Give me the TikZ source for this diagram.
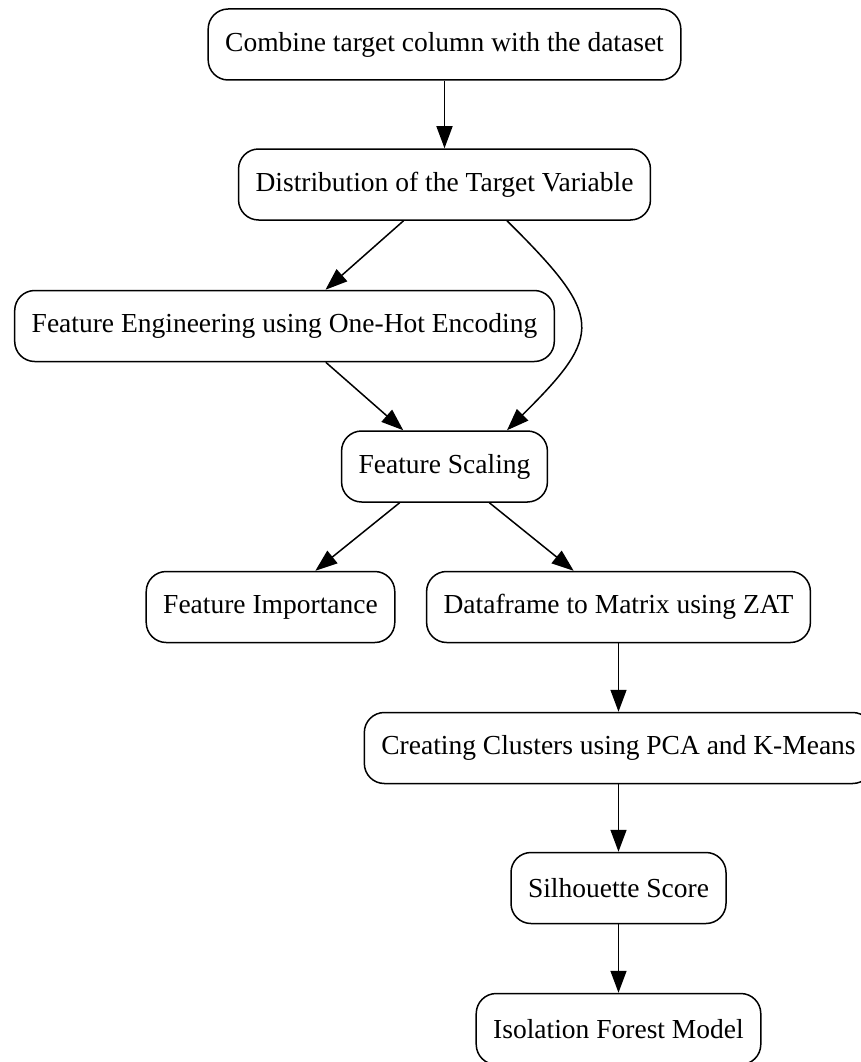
\documentclass[tikz,border=0pt]{standalone}
\usepackage{fontspec}
\setmainfont{Liberation Serif}
\usetikzlibrary{arrows.meta}
\tikzset{
    stage/.style = {rectangle, rounded corners=20pt, draw=black, line width=1.5pt, minimum height=71pt, inner xsep=17pt, font=\fontsize{27.5}{33}\selectfont},
    flow/.style = {-{Triangle[length=22pt,width=16pt]}, line width=1.5pt},
}
\begin{document}
\begin{tikzpicture}[x=1pt,y=-1pt]
\useasboundingbox (0,0) rectangle (861,1062);
\node[stage] at (444.5, 44.5) (a) {Combine target column with the dataset};
\node[stage] at (444.5, 184.5) (b) {Distribution of the Target Variable};
\node[stage] at (284.5, 326.0) (c) {Feature Engineering using One-Hot Encoding};
\node[stage] at (444.5, 466.5) (d) {Feature Scaling};
\node[stage] at (270.5, 607.0) (e) {Feature Importance};
\node[stage] at (618.5, 607.0) (f) {Dataframe to Matrix using ZAT};
\node[stage] at (618.5, 748.0) (g) {Creating Clusters using PCA and K-Means};
\node[stage] at (618.5, 888.0) (h) {Silhouette Score};
\node[stage] at (618.5, 1029.0) (i) {Isolation Forest Model};
%
\draw[flow] (a) -- (b);
\draw[flow] (b) -- (c);
\draw[flow] ([xshift=62.5pt]b.south) .. controls (604,317) and (604,334) .. ([xshift=62.5pt]d.north);
\draw[flow] (c) -- (d);
\draw[flow] (d) -- (e);
\draw[flow] (d) -- (f);
\draw[flow] (f) -- (g);
\draw[flow] (g) -- (h);
\draw[flow] (h) -- (i);
\end{tikzpicture}
\end{document}
